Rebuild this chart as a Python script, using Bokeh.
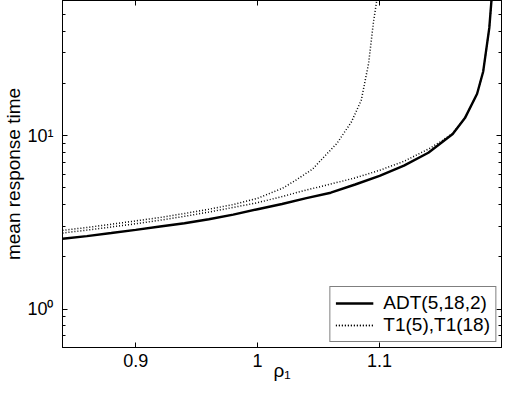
from bokeh.plotting import figure
from bokeh.models import Range1d, FixedTicker, LinearAxis, LogAxis, Legend, LegendItem
from bokeh.embed import file_html
from bokeh.resources import INLINE

# ---- data ----
rho_adt = [0.84, 0.86, 0.88, 0.90, 0.92, 0.94, 0.96, 0.98, 1.00, 1.02, 1.04, 1.06,
           1.08, 1.10, 1.12, 1.14, 1.16, 1.17, 1.18, 1.185, 1.19, 1.192]
mrt_adt = [2.54, 2.63, 2.74, 2.86, 2.99, 3.12, 3.29, 3.50, 3.76, 4.03, 4.36, 4.68,
           5.22, 5.85, 6.70, 7.95, 10.2, 12.6, 17.4, 23.4, 41.7, 63.0]

rho_t1_18 = [0.84, 0.86, 0.88, 0.90, 0.92, 0.94, 0.96, 0.98, 1.00, 1.02, 1.04, 1.06,
             1.08, 1.10, 1.12, 1.14, 1.15, 1.16, 1.17, 1.18, 1.185, 1.19, 1.192]
mrt_t1_18 = [2.74, 2.85, 2.97, 3.10, 3.25, 3.42, 3.62, 3.85, 4.10, 4.45, 4.85, 5.25,
             5.70, 6.30, 7.10, 8.35, 9.20, 10.3, 12.6, 17.4, 23.4, 41.7, 63.0]

rho_t1_5 = [0.84, 0.86, 0.88, 0.90, 0.92, 0.94, 0.96, 0.98, 1.00, 1.02, 1.03, 1.045,
            1.055, 1.065, 1.077, 1.085, 1.091, 1.095, 1.098]
mrt_t1_5 = [2.84, 2.95, 3.08, 3.22, 3.37, 3.55, 3.76, 4.00, 4.35, 4.95, 5.45, 6.40,
            7.60, 9.00, 12.0, 16.0, 26.0, 45.0, 62.0]

x_ticks = [0.9, 1.0, 1.1]
x_tick_labels = ["0.9", "1", "1.1"]
y_ticks = [1, 10]
y_tick_labels = ["10\u2070", "10\u00b9"]
y_minor = [0.6, 0.7, 0.8, 0.9, 2, 3, 4, 5, 6, 7, 8, 9, 20, 30, 40, 50, 60]

FONT = "Liberation Sans"

p = figure(width=512, height=383,
           x_range=Range1d(0.84, 1.2), y_range=Range1d(0.6, 60),
           y_axis_type="log", output_backend="svg", toolbar_location=None,
           min_border_left=61, min_border_right=11, min_border_top=0,
           min_border_bottom=0)
p.xgrid.visible = False
p.ygrid.visible = False
p.outline_line_color = "black"
p.outline_line_width = 1
p.background_fill_color = "white"
p.border_fill_color = "white"


def style_axis(ax):
    ax.axis_line_color = "black"
    ax.major_tick_in = 5
    ax.major_tick_out = 0
    ax.minor_tick_in = 3
    ax.minor_tick_out = 0
    ax.major_tick_line_color = "black"
    ax.minor_tick_line_color = "black"
    ax.major_label_text_font = FONT
    ax.major_label_text_font_size = "18px"
    ax.major_label_text_color = "black"
    ax.axis_label_text_font = FONT
    ax.axis_label_text_font_style = "normal"
    ax.axis_label_text_color = "black"
    ax.axis_label_text_font_size = "19px"


xa = p.xaxis[0]
xa.ticker = FixedTicker(ticks=x_ticks)
xa.major_label_overrides = dict(zip(x_ticks, x_tick_labels))
xa.axis_label = "\u03c1\u2081"
style_axis(xa)
xa.major_label_standoff = 6
xa.axis_label_standoff = -10

ya = p.yaxis[0]
ya.ticker = FixedTicker(ticks=y_ticks, minor_ticks=y_minor)
ya.major_label_overrides = dict(zip(y_ticks, y_tick_labels))
ya.axis_label = "mean response time"
style_axis(ya)
ya.major_label_standoff = 9
ya.axis_label_standoff = 0

top = LinearAxis(ticker=FixedTicker(ticks=x_ticks),
                 major_label_overrides={t: "" for t in x_ticks})
style_axis(top)
top.major_label_standoff = 0
top.major_label_text_font_size = "0px"
p.add_layout(top, "above")

right = LogAxis(ticker=FixedTicker(ticks=y_ticks, minor_ticks=y_minor),
                major_label_overrides={t: "" for t in y_ticks})
style_axis(right)
right.major_label_standoff = 0
right.major_label_text_font_size = "0px"
p.add_layout(right, "right")

r1 = p.line(rho_adt, mrt_adt, line_color="black", line_width=2.4)
r2 = p.line(rho_t1_18, mrt_t1_18, line_color="black", line_width=1.5, line_dash="1 2")
r3 = p.line(rho_t1_5, mrt_t1_5, line_color="black", line_width=1.5, line_dash="1 2")

legend = Legend(items=[LegendItem(label="ADT(5,18,2)", renderers=[r1]),
                       LegendItem(label="T1(5),T1(18)", renderers=[r2, r3])],
                location="bottom_right")
legend.border_line_color = "black"
legend.border_line_width = 1
legend.background_fill_color = "white"
legend.background_fill_alpha = 1
legend.label_text_font = FONT
legend.label_text_font_size = "19px"
legend.label_text_color = "black"
legend.glyph_width = 38
legend.glyph_height = 18
legend.label_height = 18
legend.label_standoff = 10
legend.padding = 5
legend.spacing = 0
legend.margin = 5
p.add_layout(legend)

open("out.html", "w").write(file_html(p, INLINE))
